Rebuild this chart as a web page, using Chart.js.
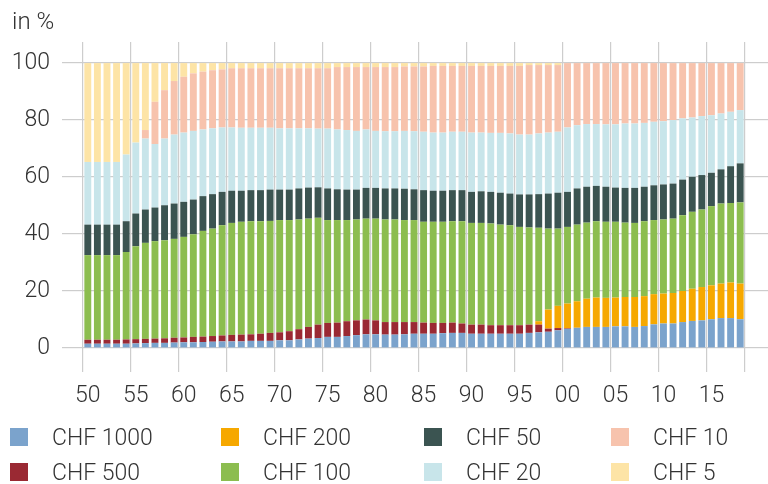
<!DOCTYPE html>
<html>
<head>
<meta charset="utf-8">
<script src="https://cdn.jsdelivr.net/npm/chart.js@4/dist/chart.umd.min.js"></script>
<style>
  body { margin: 0; background: #fff; }
  #wrap { position: relative; width: 768px; height: 484px; font-family: Roboto, "Liberation Sans", sans-serif; }
  #chart { position: absolute; left: 0; top: 0; }
  .item { position: absolute; height: 30px; display: flex; align-items: center; font-size: 23px; font-weight: 300; color: #333; white-space: nowrap; }
  .item i { display: inline-block; width: 18px; height: 18px; margin-right: 24px; }
</style>
</head>
<body>
<div id="wrap">
  <canvas id="chart" width="768" height="484"></canvas>
  <div id="legend"></div>
</div>
<script>
// years on the x axis, 1950 to 2018
const years = [
  1950, 1951, 1952, 1953, 1954, 1955, 1956, 1957, 1958, 1959,
  1960, 1961, 1962, 1963, 1964, 1965, 1966, 1967, 1968, 1969,
  1970, 1971, 1972, 1973, 1974, 1975, 1976, 1977, 1978, 1979,
  1980, 1981, 1982, 1983, 1984, 1985, 1986, 1987, 1988, 1989,
  1990, 1991, 1992, 1993, 1994, 1995, 1996, 1997, 1998, 1999,
  2000, 2001, 2002, 2003, 2004, 2005, 2006, 2007, 2008, 2009,
  2010, 2011, 2012, 2013, 2014, 2015, 2016, 2017, 2018
];
const yTicks = [0, 20, 40, 60, 80, 100];

// share of each note in %
const chf1000 = [
  1.5, 1.5, 1.5, 1.5, 1.5, 1.6, 1.7, 1.8, 1.8, 1.9,
  2.0, 2.0, 2.1, 2.2, 2.3, 2.3, 2.3, 2.5, 2.5, 2.5,
  2.7, 2.7, 3.0, 3.3, 3.5, 3.9, 3.9, 4.2, 4.5, 4.8,
  4.8, 4.7, 4.7, 4.8, 5.0, 5.0, 5.0, 5.2, 5.3, 5.3,
  5.0, 5.0, 5.0, 5.0, 5.0, 5.0, 5.3, 5.5, 5.7, 6.2,
  6.7, 7.1, 7.4, 7.4, 7.4, 7.6, 7.6, 7.4, 7.7, 8.3,
  8.6, 8.6, 9.1, 9.5, 9.7, 10.1, 10.5, 10.5, 10.1
];
const chf500 = [
  1.4, 1.4, 1.4, 1.4, 1.5, 1.5, 1.5, 1.5, 1.6, 1.7,
  1.7, 1.9, 1.9, 2.0, 2.1, 2.3, 2.4, 2.3, 2.5, 2.8,
  2.8, 3.2, 3.6, 4.1, 4.7, 4.9, 5.0, 5.2, 5.2, 5.2,
  4.9, 4.4, 4.4, 4.3, 4.1, 3.9, 3.8, 3.6, 3.6, 3.3,
  3.2, 3.2, 3.0, 3.0, 3.0, 3.0, 2.9, 2.7, 1.1, 0.8,
  0.2, 0, 0, 0, 0, 0, 0, 0, 0, 0,
  0, 0, 0, 0, 0, 0, 0, 0, 0
];
const chf200 = [
  0, 0, 0, 0, 0, 0, 0, 0, 0, 0,
  0, 0, 0, 0, 0, 0, 0, 0, 0, 0,
  0, 0, 0, 0, 0, 0, 0, 0, 0, 0,
  0, 0, 0, 0, 0, 0, 0, 0, 0, 0,
  0, 0, 0, 0, 0, 0, 0, 1.2, 6.7, 7.8,
  8.7, 9.3, 9.9, 10.3, 10.2, 10.1, 10.3, 10.5, 10.5, 10.6,
  10.5, 10.7, 10.9, 11.3, 11.7, 11.9, 12.1, 12.5, 12.5
];
const chf100 = [
  29.7, 29.7, 29.7, 29.7, 30.7, 32.6, 33.7, 34.2, 34.4, 34.7,
  35.3, 36.0, 37.1, 37.7, 38.7, 39.3, 39.6, 39.7, 39.5, 39.3,
  39.4, 39.0, 38.5, 38.0, 37.5, 36.1, 36.0, 35.5, 35.4, 35.4,
  35.7, 36.0, 36.0, 35.8, 35.8, 35.4, 35.5, 35.5, 35.6, 35.9,
  35.7, 35.7, 35.7, 35.3, 35.1, 34.5, 34.1, 32.8, 28.4, 27.1,
  26.9, 26.9, 26.7, 26.8, 26.7, 26.6, 26.1, 26.0, 26.3, 26.0,
  26.0, 26.1, 26.6, 27.0, 27.2, 27.8, 28.1, 27.9, 28.5
];
const chf50 = [
  10.7, 10.7, 10.7, 10.7, 10.8, 11.5, 11.7, 11.8, 12.3, 12.4,
  12.3, 12.2, 12.2, 12.1, 11.7, 11.3, 10.9, 10.9, 10.9, 11.0,
  10.7, 10.7, 10.9, 10.9, 10.7, 11.1, 10.8, 10.7, 10.5, 10.8,
  10.8, 10.9, 10.9, 11.0, 10.8, 11.1, 10.9, 10.9, 10.9, 10.9,
  10.9, 11.1, 11.1, 11.2, 11.1, 11.4, 11.6, 11.8, 12.3, 12.6,
  12.3, 12.7, 12.6, 12.4, 12.3, 12.0, 12.2, 12.3, 12.1, 12.2,
  12.3, 12.3, 12.5, 12.3, 12.1, 11.7, 12.0, 12.9, 13.7
];
const chf20 = [
  22.0, 22.0, 22.0, 22.0, 23.4, 24.9, 24.9, 22.3, 23.4, 24.2,
  24.3, 24.1, 23.4, 23.1, 22.6, 22.2, 22.1, 21.9, 21.9, 21.7,
  21.5, 21.5, 21.1, 20.8, 20.6, 21.0, 21.0, 20.9, 20.6, 20.5,
  20.0, 20.1, 20.1, 20.3, 20.4, 20.5, 20.4, 20.4, 20.5, 20.5,
  20.8, 20.6, 20.7, 21.0, 21.1, 21.0, 21.0, 21.3, 21.4, 21.4,
  22.6, 22.2, 22.0, 21.7, 21.9, 22.2, 22.6, 22.6, 22.4, 22.3,
  22.2, 22.3, 21.5, 20.8, 20.7, 20.2, 19.6, 19.1, 18.7
];
const chf10 = [
  0, 0, 0, 0, 0, 0, 3.0, 14.8, 17.0, 18.8,
  19.6, 20.2, 20.3, 20.4, 20.4, 20.8, 20.9, 20.9, 20.9, 20.9,
  21.1, 21.1, 21.1, 21.1, 21.2, 21.2, 21.9, 22.1, 22.4, 21.9,
  22.4, 22.5, 22.5, 22.6, 22.7, 22.9, 23.4, 23.4, 23.1, 23.1,
  23.4, 23.4, 23.5, 23.5, 23.7, 24.1, 24.4, 24.0, 23.7, 23.4,
  22.6, 21.8, 21.4, 21.4, 21.5, 21.5, 21.2, 21.2, 21.0, 20.6,
  20.4, 20.0, 19.4, 19.1, 18.6, 18.3, 17.7, 17.1, 16.5
];
const chf5 = [
  34.7, 34.7, 34.7, 34.7, 32.1, 27.9, 23.5, 13.6, 9.5, 6.3,
  4.8, 3.6, 3.0, 2.5, 2.2, 1.8, 1.8, 1.8, 1.8, 1.8,
  1.8, 1.8, 1.8, 1.8, 1.8, 1.8, 1.4, 1.4, 1.4, 1.4,
  1.4, 1.4, 1.4, 1.2, 1.2, 1.2, 1.0, 1.0, 1.0, 1.0,
  1.0, 1.0, 1.0, 1.0, 1.0, 1.0, 0.7, 0.7, 0.7, 0.7,
  0, 0, 0, 0, 0, 0, 0, 0, 0, 0,
  0, 0, 0, 0, 0, 0, 0, 0, 0
];

// stacking order, bottom to top
const series = [
  { label: "CHF 1000", data: chf1000, color: "#7ba3cc" },
  { label: "CHF 500",  data: chf500,  color: "#9a2933" },
  { label: "CHF 200",  data: chf200,  color: "#f6a800" },
  { label: "CHF 100",  data: chf100,  color: "#8cbd4f" },
  { label: "CHF 50",   data: chf50,   color: "#3b5451" },
  { label: "CHF 20",   data: chf20,   color: "#c8e5ea" },
  { label: "CHF 10",   data: chf10,   color: "#f7c3ad" },
  { label: "CHF 5",    data: chf5,    color: "#fde4a6" }
];

const gridColor = "#cdcdcd";
const font = { family: "Roboto, 'Liberation Sans', sans-serif", size: 23, weight: 300 };

// vertical lines only every five years plus the closing line at the right
function xGrid(ctx) {
  if (ctx.index === undefined || ctx.index % 5 === 0) return gridColor;
  return "rgba(0,0,0,0)";
}

new Chart(document.getElementById("chart"), {
  type: "bar",
  data: {
    labels: years,
    datasets: series.map(s => ({
      label: s.label,
      data: s.data,
      backgroundColor: s.color,
      borderWidth: 0,
      categoryPercentage: 1,
      barPercentage: 0.72
    }))
  },
  options: {
    responsive: false,
    animation: false,
    layout: { padding: { left: 12 } },
    plugins: {
      legend: { display: false },
      tooltip: { enabled: false },
      title: {
        display: true,
        text: "in %",
        align: "start",
        color: "#333",
        font: { ...font, size: 24, lineHeight: 1.2 },
        padding: { top: 9, bottom: 4.2 }
      }
    },
    scales: {
      x: {
        stacked: true,
        border: { display: false },
        grid: { offset: true, color: xGrid, tickColor: xGrid, lineWidth: 1.2, tickLength: 24 },
        ticks: {
          autoSkip: false,
          maxRotation: 0,
          padding: 10,
          color: "#333",
          font: font,
          callback: (v, i) => (years[i] % 5 === 0 ? String(years[i]).slice(2) : "")
        },
        afterFit: s => { s.height = 136; }
      },
      y: {
        stacked: true,
        min: 0,
        max: 107.4,
        border: { display: false },
        grid: { color: gridColor, lineWidth: 1.2, tickLength: 21 },
        ticks: {
          stepSize: 20,
          includeBounds: false,
          padding: 12,
          color: "#333",
          font: font,
          callback: v => (yTicks.includes(v) ? v : "")
        },
        afterFit: s => { s.width = 71; }
      },
      yRight: {
        position: "right",
        min: 0,
        max: 107.4,
        border: { display: false },
        grid: { color: gridColor, lineWidth: 1.2, tickLength: 23, drawOnChartArea: false },
        ticks: { display: false, stepSize: 20, includeBounds: false }
      }
    }
  }
});

// legend in four columns, filled column by column like the original
const legendOrder = [0, 2, 4, 6, 1, 3, 5, 7];
const colX = [10, 221, 424, 611];
const rowY = [422, 457];
const legend = document.getElementById("legend");
legendOrder.forEach((idx, k) => {
  const s = series[idx];
  const el = document.createElement("div");
  el.className = "item";
  el.style.left = colX[k % 4] + "px";
  el.style.top = rowY[Math.floor(k / 4)] + "px";
  el.innerHTML = '<i style="background:' + s.color + '"></i>' + s.label;
  legend.appendChild(el);
});
</script>
</body>
</html>
